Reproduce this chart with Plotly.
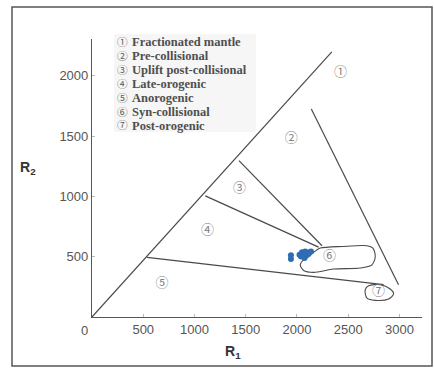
import plotly.graph_objects as go

# Sample compositions plotted on the R1-R2 diagram
r1_samples = [1941, 1941, 2025, 2049, 2065, 2081, 2098, 2123, 2137, 2065, 2091, 2113, 2039, 2074]
r2_samples = [512, 481, 516, 538, 530, 544, 530, 538, 544, 502, 510, 522, 502, 489]

# Straight field boundaries: (R1 start, R2 start, R1 end, R2 end)
boundaries = [
    (0, 0, 2340, 2200),
    (2140, 1726, 2991, 268),
    (1434, 1297, 2244, 591),
    (1105, 1005, 2211, 580),
    (537, 494, 2845, 268),
]

# Closed outline of field 6 (syn-collisional)
field6_r1 = [2228, 2440, 2683, 2741, 2764, 2732, 2618, 2357, 2162, 2065, 2032, 2065, 2130, 2195, 2228]
field6_r2 = [572, 585, 591, 572, 502, 433, 406, 398, 370, 386, 433, 475, 516, 557, 572]

# Closed outline of field 7 (post-orogenic)
field7_r1 = [2666, 2699, 2813, 2910, 2943, 2894, 2764, 2683, 2666]
field7_r2 = [226, 259, 268, 232, 193, 149, 138, 157, 226]

# Field numbers and their positions
field_marks = ["①", "②", "③", "④", "⑤", "⑥", "⑦"]
field_mark_r1 = [2424, 1944, 1440, 1128, 683, 2318, 2796]
field_mark_r2 = [2022, 1475, 1066, 718, 279, 502, 210]

# Key to the fields
field_names = [
    "Fractionated mantle",
    "Pre-collisional",
    "Uplift post-collisional",
    "Late-orogenic",
    "Anorogenic",
    "Syn-collisional",
    "Post-orogenic",
]

x_ticks = [500, 1000, 1500, 2000, 2500, 3000]
y_ticks = [500, 1000, 1500, 2000]

LINE = "#4a4a4a"
W, H = 434, 368
ML, MR, MT, MB = 92, 12, 39, 51
PW, PH = W - ML - MR, H - MT - MB
KEY_TOP, KEY_STEP = 41.7, 13.9


def px_to_paper(px, py):
    return (px - ML) / PW, (H - MB - py) / PH


fig = go.Figure()

for x0, y0, x1, y1 in boundaries:
    fig.add_trace(go.Scatter(x=[x0, x1], y=[y0, y1], mode="lines",
                             line=dict(color=LINE, width=1.2), hoverinfo="skip"))

fig.add_trace(go.Scatter(x=field6_r1, y=field6_r2, mode="lines",
                         line=dict(color=LINE, width=1.1, shape="spline", smoothing=0.8),
                         hoverinfo="skip"))
fig.add_trace(go.Scatter(x=field7_r1, y=field7_r2, mode="lines",
                         line=dict(color=LINE, width=1.1, shape="spline", smoothing=0.9),
                         hoverinfo="skip"))

fig.add_trace(go.Scatter(x=r1_samples, y=r2_samples, mode="markers",
                         marker=dict(color="#2f6db3", size=6, line=dict(width=0))))

fig.add_trace(go.Scatter(x=field_mark_r1, y=field_mark_r2, mode="text", text=field_marks,
                         textfont=dict(family="Noto Sans CJK SC", size=13, color="#808080"),
                         hoverinfo="skip"))

annotations = []
# key block: column of circled numbers, one field name per row beside it
mid = KEY_TOP + KEY_STEP * (len(field_marks) - 1) / 2
px, py = px_to_paper(116, mid)
annotations.append(dict(x=px, y=py, xref="paper", yref="paper", text="<br>".join(field_marks),
                        showarrow=False, xanchor="left", yanchor="middle", borderpad=0,
                        align="left",
                        font=dict(family="Noto Sans CJK SC", size=KEY_STEP / 1.3,
                                  color="#5a5a5a")))
for i, name in enumerate(field_names):
    px, py = px_to_paper(131, KEY_TOP + 0.5 + i * KEY_STEP)
    annotations.append(dict(x=px, y=py, xref="paper", yref="paper", text="<b>" + name + "</b>",
                            showarrow=False, xanchor="left", yanchor="middle", borderpad=0,
                            font=dict(family="Liberation Serif", size=12.5, color="#4f4f4f")))

# origin label
ox, oy = px_to_paper(84, 330)
annotations.append(dict(x=ox, y=oy, xref="paper", yref="paper", text="0", showarrow=False,
                        xanchor="center", yanchor="middle",
                        font=dict(family="Arial, Liberation Sans", size=13, color="#555555")))
# axis titles
tx, ty = px_to_paper(233, 352)
annotations.append(dict(x=tx, y=ty, xref="paper", yref="paper", text="<b>R<sub>1</sub></b>",
                        showarrow=False, xanchor="center", yanchor="middle",
                        font=dict(family="Arial, Liberation Sans", size=14, color="#333333")))
tx, ty = px_to_paper(28, 168)
annotations.append(dict(x=tx, y=ty, xref="paper", yref="paper", text="<b>R<sub>2</sub></b>",
                        showarrow=False, xanchor="center", yanchor="middle",
                        font=dict(family="Arial, Liberation Sans", size=14, color="#333333")))

shapes = []
bx0, by0 = px_to_paper(114, 34)
bx1, by1 = px_to_paper(256, 132)
shapes.append(dict(type="rect", xref="paper", yref="paper", x0=bx0, y0=by1, x1=bx1, y1=by0,
                   fillcolor="#f6f6f6", line=dict(width=0), layer="below"))
fx0, fy0 = px_to_paper(12, 366)
fx1, fy1 = px_to_paper(432, 7)
shapes.append(dict(type="rect", xref="paper", yref="paper", x0=fx0, y0=fy0, x1=fx1, y1=fy1,
                   line=dict(color="#555555", width=1.5), fillcolor="rgba(0,0,0,0)"))

axis_font = dict(family="Arial, Liberation Sans", size=13, color="#555555")
fig.update_layout(
    width=W, height=H,
    margin=dict(l=ML, r=MR, t=MT, b=MB),
    paper_bgcolor="white", plot_bgcolor="white",
    showlegend=False,
    xaxis=dict(range=[0, 3220], tickvals=x_ticks, showgrid=False, zeroline=False,
               showline=True, linecolor="#555555", linewidth=1.2,
               ticks="inside", ticklen=3, tickcolor="#bbbbbb",
               tickfont=axis_font, fixedrange=True),
    yaxis=dict(range=[0, 2306], tickvals=y_ticks, showgrid=False, zeroline=False,
               showline=True, linecolor="#555555", linewidth=1.2,
               ticks="inside", ticklen=3, tickcolor="#bbbbbb",
               tickfont=axis_font, fixedrange=True),
    annotations=annotations,
    shapes=shapes,
)

fig.write_html("out.html")
